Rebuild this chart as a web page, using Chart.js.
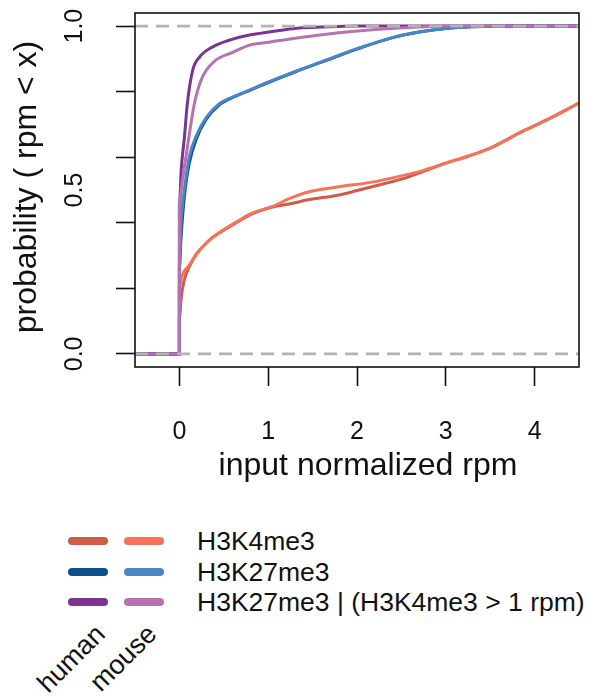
<!DOCTYPE html>
<html>
<head>
<meta charset="utf-8">
<script src="https://cdn.jsdelivr.net/npm/chart.js@4"></script>
<style>
  body { margin: 0; background: #fff; font-family: "Liberation Sans", Arial, sans-serif; }
  #wrap { position: relative; width: 592px; height: 697px; }
  #plot { position: absolute; left: 0; top: 0; width: 592px; height: 500px; }
  .sw { position: absolute; width: 40px; height: 8px; border-radius: 4px; }
  .lab { position: absolute; left: 197px; font-size: 26.5px; color: #111; line-height: 1; white-space: nowrap; }
  .rot { position: absolute; font-size: 27px; color: #111; line-height: 1; white-space: nowrap;
         transform: rotate(-45deg); transform-origin: right center; }
</style>
</head>
<body>
<div id="wrap">
  <div id="plot"><canvas id="ecdf"></canvas></div>
  <div id="legend"></div>
</div>
<script>
// ECDF of input normalized rpm, human vs mouse
const xTicks = [0, 1, 2, 3, 4];
const yTickValues = [0, 0.5, 1];
const yTickLabels = ["0.0", "0.5", "1.0"];
const xTitle = "input normalized rpm";
const yTitle = "probability ( rpm < x)";

const rpm_k4_human  = [-0.5, 0, 0, 0.02, 0.05, 0.11, 0.18, 0.26, 0.35, 0.45, 0.64, 0.8, 1.05, 1.25, 1.45, 1.8, 2.17, 2.5, 2.75, 3.0, 3.25, 3.5, 3.83, 4.13, 4.5];
const prob_k4_human = [0, 0, 0.11, 0.17, 0.22, 0.265, 0.3, 0.326, 0.35, 0.369, 0.4, 0.425, 0.448, 0.458, 0.47, 0.485, 0.51, 0.533, 0.557, 0.582, 0.603, 0.628, 0.674, 0.713, 0.765];
const rpm_k4_mouse  = [-0.5, 0, 0, 0.02, 0.05, 0.11, 0.18, 0.26, 0.35, 0.45, 0.64, 0.8, 1.05, 1.25, 1.45, 1.8, 2.17, 2.5, 2.75, 3.0, 3.25, 3.5, 3.83, 4.13, 4.5];
const prob_k4_mouse = [0, 0, 0.2, 0.23, 0.25, 0.27, 0.3, 0.326, 0.35, 0.37, 0.402, 0.427, 0.45, 0.475, 0.494, 0.51, 0.524, 0.543, 0.56, 0.582, 0.603, 0.628, 0.674, 0.713, 0.765];

const rpm_k27_human  = [-0.5, 0, 0, 0.015, 0.03, 0.06, 0.11, 0.19, 0.3, 0.45, 0.64, 0.8, 1.0, 1.3, 1.6, 2.0, 2.4, 2.7, 3.0, 3.4, 3.8, 4.5];
const prob_k27_human = [0, 0, 0.26, 0.34, 0.4, 0.49, 0.58, 0.655, 0.715, 0.76, 0.787, 0.805, 0.828, 0.86, 0.89, 0.93, 0.965, 0.982, 0.993, 0.999, 1, 1];
const rpm_k27_mouse  = [-0.5, 0, 0, 0.015, 0.03, 0.06, 0.11, 0.19, 0.3, 0.45, 0.64, 0.8, 1.0, 1.3, 1.6, 2.0, 2.4, 2.7, 3.0, 3.4, 3.8, 4.5];
const prob_k27_mouse = [0, 0, 0.28, 0.38, 0.44, 0.51, 0.6, 0.665, 0.72, 0.763, 0.788, 0.806, 0.829, 0.861, 0.891, 0.931, 0.965, 0.982, 0.993, 0.999, 1, 1];

const rpm_both_human  = [-0.5, 0, 0, 0.02, 0.056, 0.09, 0.15, 0.225, 0.37, 0.56, 0.79, 1.01, 1.35, 1.6, 2.0, 4.5];
const prob_both_human = [0, 0, 0.45, 0.56, 0.66, 0.765, 0.866, 0.905, 0.936, 0.957, 0.973, 0.982, 0.994, 0.997, 1, 1];
const rpm_both_mouse  = [-0.5, 0, 0, 0.02, 0.09, 0.17, 0.26, 0.41, 0.6, 0.79, 1.01, 1.58, 2.14, 2.7, 3.0, 4.5];
const prob_both_mouse = [0, 0, 0.45, 0.5, 0.63, 0.765, 0.845, 0.896, 0.92, 0.942, 0.951, 0.973, 0.988, 0.997, 1, 1];

const marks = ["H3K4me3", "H3K27me3", "H3K27me3 | (H3K4me3 > 1 rpm)"];
const species = ["human", "mouse"];
const colors = [["#cd5c48", "#f5735a"], ["#0e4f8c", "#4a86c6"], ["#7b3590", "#b374b0"]];

const FONT = "'Liberation Sans', Arial, sans-serif";

function pts(xs, ys) {
  return xs.map((x, i) => ({ x: x, y: ys[i] }));
}

let series = [
  [pts(rpm_k4_human, prob_k4_human), pts(rpm_k4_mouse, prob_k4_mouse)],
  [pts(rpm_k27_human, prob_k27_human), pts(rpm_k27_mouse, prob_k27_mouse)],
  [pts(rpm_both_human, prob_both_human), pts(rpm_both_mouse, prob_both_mouse)]
];

let datasets = [];
let ord = 7;
series.forEach((pair, m) => {
  pair.forEach((data, s) => {
    datasets.push({
      label: marks[m] + " (" + species[s] + ")",
      data: data,
      borderColor: colors[m][s],
      borderWidth: 3,
      pointRadius: 0,
      fill: false,
      cubicInterpolationMode: "monotone",
      order: ord--
    });
  });
});

// grey dashed lines at 0 and 1
[0, 1].forEach(v => {
  datasets.push({
    label: "ref" + v,
    data: [{ x: -0.5, y: v }, { x: 4.5, y: v }],
    borderColor: "#b3b3b3",
    borderWidth: 2.6,
    borderDash: [13, 8],
    pointRadius: 0,
    order: 0
  });
});

const frame = {
  id: "frame",
  afterDraw(chart) {
    const { ctx, chartArea: a } = chart;
    ctx.save();
    ctx.strokeStyle = "#111";
    ctx.lineWidth = 1.6;
    ctx.strokeRect(a.left, a.top, a.right - a.left, a.bottom - a.top);
    // y labels, parallel to the axis
    const ys = chart.scales.y;
    ctx.fillStyle = "#111";
    ctx.font = "25px " + FONT;
    ctx.textAlign = "center";
    ctx.textBaseline = "middle";
    yTickValues.forEach((v, i) => {
      ctx.save();
      ctx.translate(75, ys.getPixelForValue(v));
      ctx.rotate(-Math.PI / 2);
      ctx.fillText(yTickLabels[i], 0, 0);
      ctx.restore();
    });
    // axis titles
    ctx.font = "32px " + FONT;
    ctx.textBaseline = "alphabetic";
    ctx.fillText(xTitle, 368, 475);
    ctx.save();
    ctx.translate(36, 187);
    ctx.rotate(-Math.PI / 2);
    ctx.fillText(yTitle, 0, 0);
    ctx.restore();
    ctx.restore();
  }
};

new Chart(document.getElementById("ecdf"), {
  type: "line",
  data: { datasets: datasets },
  plugins: [frame],
  options: {
    responsive: true,
    maintainAspectRatio: false,
    animation: false,
    layout: { padding: { top: 13, right: 13, left: 0, bottom: 0 } },
    plugins: { legend: { display: false }, tooltip: { enabled: false } },
    scales: {
      x: {
        type: "linear",
        min: -0.5,
        max: 4.5,
        afterBuildTicks: s => { s.ticks = xTicks.map(v => ({ value: v })); },
        afterFit: s => { s.height = 133; s.paddingLeft = 0; s.paddingRight = 0; },
        border: { display: false },
        grid: { drawOnChartArea: false, tickLength: 19, tickColor: "#111", tickWidth: 1.6 },
        ticks: { autoSkip: false, maxRotation: 0, padding: 31, color: "#111", font: { family: FONT, size: 25 } }
      },
      y: {
        type: "linear",
        min: -0.04,
        max: 1.04,
        afterBuildTicks: s => { s.ticks = [0, 0.2, 0.4, 0.6, 0.8, 1].map(v => ({ value: v })); },
        afterFit: s => { s.width = 135; s.paddingTop = 0; s.paddingBottom = 0; },
        border: { display: false },
        grid: { drawOnChartArea: false, tickLength: 19, tickColor: "#111", tickWidth: 1.6 },
        ticks: { display: false }
      }
    }
  }
});

// legend below the plot
const legend = document.getElementById("legend");
const rowY = [541, 572, 602];
marks.forEach((m, i) => {
  colors[i].forEach((c, s) => {
    const d = document.createElement("div");
    d.className = "sw";
    d.style.left = (s === 0 ? 68 : 124) + "px";
    d.style.top = (rowY[i] - 4) + "px";
    d.style.background = c;
    legend.appendChild(d);
  });
  const t = document.createElement("div");
  t.className = "lab";
  t.style.top = (rowY[i] - 13) + "px";
  t.textContent = m;
  legend.appendChild(t);
});
species.forEach((sp, s) => {
  const r = document.createElement("div");
  r.className = "rot";
  r.textContent = sp;
  r.style.right = (592 - (s === 0 ? 101 : 152)) + "px";
  r.style.top = (629 - 13) + "px";
  legend.appendChild(r);
});
</script>
</body>
</html>
